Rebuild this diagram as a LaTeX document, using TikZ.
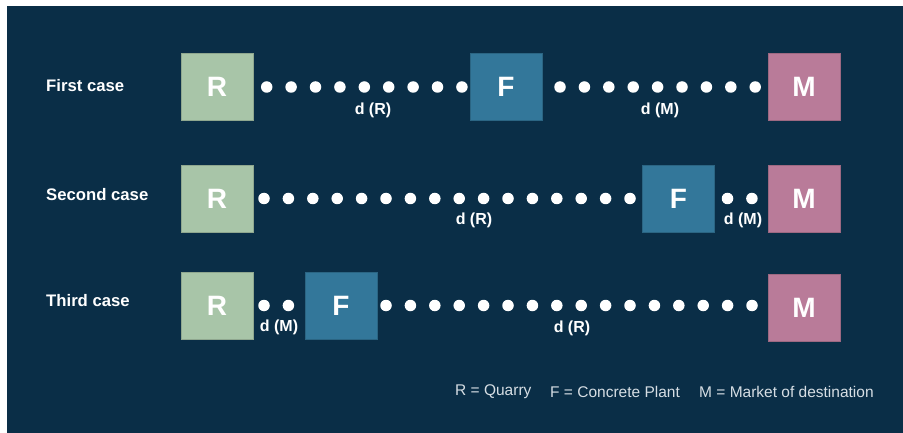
\documentclass[tikz,border=0pt]{standalone}
\usepackage{fontspec}
\setmainfont{Liberation Sans}
\definecolor{navy}{HTML}{0A2E47}
\definecolor{quarry}{HTML}{A8C5A8}
\definecolor{plant}{HTML}{33779A}
\definecolor{market}{HTML}{B97B99}
\definecolor{legendgray}{HTML}{D6DEE4}
\begin{document}
\begin{tikzpicture}[x=1pt,y=-1pt,
  site/.style={minimum width=72pt, minimum height=67pt, inner sep=0pt, outer sep=0pt,
    text=white, font=\fontsize{28}{30}\selectfont\bfseries, draw=#1!85!black, fill=#1, line width=0.6pt},
  casename/.style={anchor=west, text=white, inner sep=0pt, font=\fontsize{16.7}{18}\selectfont\bfseries},
  dist/.style={text=white, inner sep=0pt, font=\fontsize{16}{18}\selectfont\bfseries},
  legend/.style={anchor=west, text=legendgray, inner sep=0pt, font=\fontsize{15.5}{17}\selectfont},
  dotrow/.style={white, line width=11.5pt, line cap=round, dash pattern=on 0pt off 24.4pt}]
  % canvas
  \useasboundingbox (0,0) rectangle (903,433);
  \fill[white] (0,0) rectangle (903,433);
  \fill[navy] (7,6) rectangle (903,433);

  % row labels
  \node[casename] (c1) at (46,86) {First case};
  \node[casename] (c2) at (46,195) {Second case};
  \node[casename] (c3) at (46,301) {Third case};

  % first case
  \node[site=quarry] (R1) at (217,87) {R};
  \node[site=plant]  (F1) at (506,87) {F};
  \node[site=market] (M1) at (804,87) {M};
  \draw[dotrow, shorten <=13.7pt, shorten >=3.5pt] (R1) -- (F1);
  \draw[dotrow, shorten <=18pt, shorten >=8pt] (F1) -- (M1);
  \node[dist] (dR1) at (373,110) {d (R)};
  \node[dist] (dM1) at (660,110) {d (M)};

  % second case
  \node[site=quarry] (R2) at (217,198.5) {R};
  \node[site=plant]  (F2) at (678.5,198.5) {F};
  \node[site=market] (M2) at (804,198.5) {M};
  \draw[dotrow, shorten <=11pt, shorten >=7.5pt] (R2) -- (F2);
  \draw[dotrow, shorten <=13pt, shorten >=11pt] (F2) -- (M2);
  \node[dist] (dR2) at (474,220) {d (R)};
  \node[dist] (dM2) at (743,220) {d (M)};

  % third case
  \node[site=quarry] (R3) at (217,305.5) {R};
  \node[site=plant]  (F3) at (341,305.5) {F};
  \node[site=market] (M3) at (804,308) {M};
  \draw[dotrow, shorten <=11pt, shorten >=11pt] (R3) -- (F3);
  \draw[dotrow, shorten <=9pt, shorten >=10.5pt] (F3.east) -- (F3.east -| M3.west);
  \node[dist] (dM3) at (279,327) {d (M)};
  \node[dist] (dR3) at (572,328) {d (R)};

  % legend
  \node[legend] (lR) at (455,392) {R = Quarry};
  \node[legend] (lF) at (550,392) {F = Concrete Plant};
  \node[legend] (lM) at (699,392) {M = Market of destination};
\end{tikzpicture}
\end{document}
